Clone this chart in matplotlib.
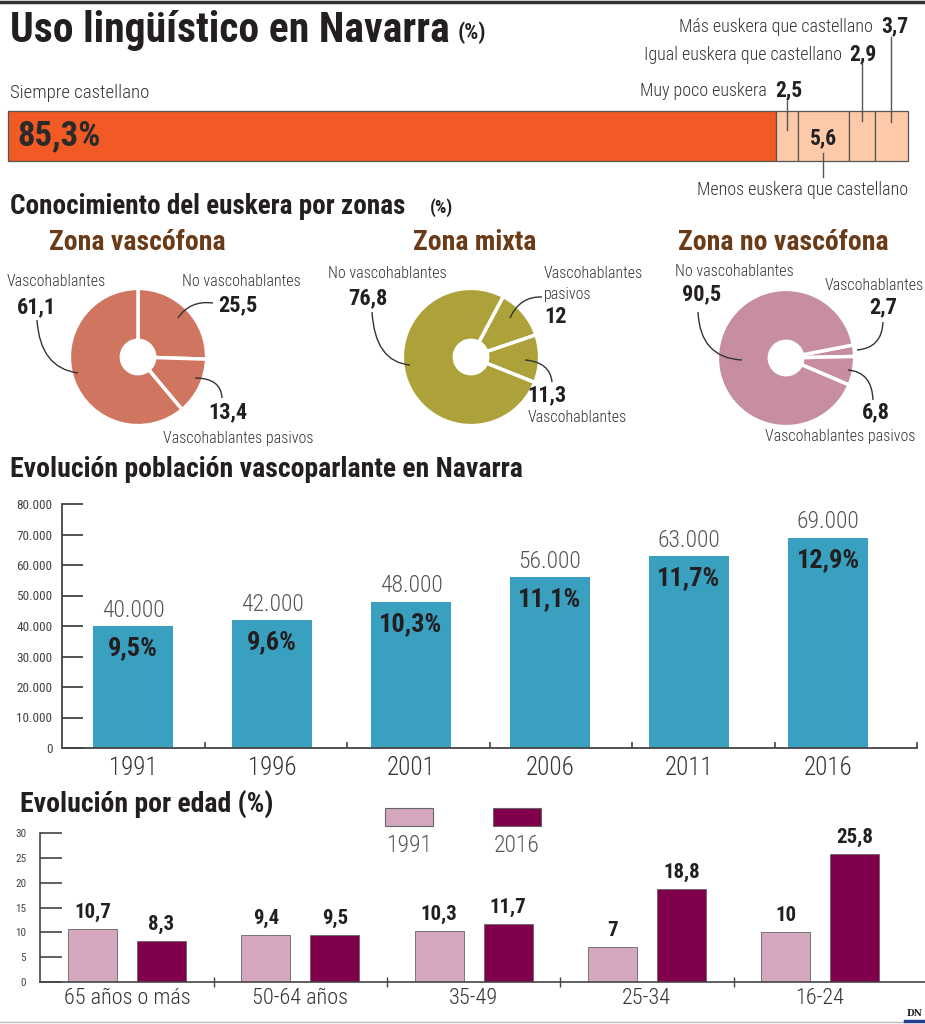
import numpy as np
import matplotlib

matplotlib.use("Agg")
import matplotlib.pyplot as plt
from matplotlib import font_manager
from matplotlib.path import Path
from matplotlib.patches import PathPatch, Rectangle
from matplotlib.transforms import blended_transform_factory

W, H = 925, 1024

# --- data -----------------------------------------------------------------
USO_LABELS = ["Siempre castellano", "Muy poco euskera", "Menos euskera que castellano",
              "Igual euskera que castellano", "Más euskera que castellano"]
USO_VALUES = [85.3, 2.5, 5.6, 2.9, 3.7]

ZONES = ["Zona vascófona", "Zona mixta", "Zona no vascófona"]
ZONE_NO = [25.5, 76.8, 90.5]
ZONE_PASIVOS = [13.4, 12, 6.8]
ZONE_VASCO = [61.1, 11.3, 2.7]

YEARS = ["1991", "1996", "2001", "2006", "2011", "2016"]
SPEAKERS = [40000, 42000, 48000, 56000, 63000, 69000]
SPEAKERS_PCT = [9.5, 9.6, 10.3, 11.1, 11.7, 12.9]

AGE_GROUPS = ["65 años o más", "50-64 años", "35-49", "25-34", "16-24"]
AGE_1991 = [10.7, 9.4, 10.3, 7, 10]
AGE_2016 = [8.3, 9.5, 11.7, 18.8, 25.8]

# --- style ----------------------------------------------------------------
DARK = "#231f20"
GREY = "#444444"
ORANGE = "#f15a24"
PEACH = "#fcc9a9"
ZONE_COLORS = ["#d07660", "#ada23a", "#c68ea0"]
ZONE_TITLE = "#6b3a16"
BLUE = "#3aa0c0"
PINK = "#d4a7bf"
PLUM = "#80004b"
LIGHT = "light"


def pick(*names):
    have = {f.name for f in font_manager.fontManager.ttflist}
    for n in names:
        if n in have:
            return n
    return "DejaVu Sans"


NARROW = pick("Roboto Condensed", "Liberation Sans Narrow", "DejaVu Sans Condensed",
              "Open Sans Condensed", "Liberation Sans")
plt.rcParams["font.family"] = [NARROW, "DejaVu Sans"]


def fmt(v):
    return f"{v:g}".replace(".", ",")


def thousands(v):
    return f"{int(v):,}".replace(",", ".")


fig = plt.figure(figsize=(W / 100, H / 100), dpi=100)
ov = fig.add_axes([0, 0, 1, 1], zorder=10)
ov.set_xlim(0, W)
ov.set_ylim(H, 0)
ov.axis("off")


def txt(x, y, s, pt, bold=False, color=DARK, ha="left", va="baseline", weight=None, **kw):
    w = weight if weight else ("bold" if bold else "normal")
    ov.text(x, y, s, fontsize=pt, fontweight=w, color=color, ha=ha, va=va, **kw)


def leader(p0, ctrl, p1):
    path = Path([p0, ctrl, p1], [Path.MOVETO, Path.CURVE3, Path.CURVE3])
    ov.add_patch(PathPatch(path, fill=False, lw=1, edgecolor="#333333"))


def px_axes(x0, y0, x1, y1, **kw):
    return fig.add_axes([x0 / W, 1 - y1 / H, (x1 - x0) / W, (y1 - y0) / H], **kw)


# frame lines
ov.plot([0, W], [1.5, 1.5], color="#333333", lw=2.5)
ov.plot([0, 903], [1022, 1022], color="#bbbbbb", lw=1)
ov.plot([905, 925], [1021, 1021], color="#1f3e8c", lw=2.5)
ov.text(915, 1016, "DN", fontsize=6.5, fontweight="bold", family="DejaVu Serif",
        color=DARK, ha="center", va="baseline")

# --- 1. Uso lingüístico ---------------------------------------------------
txt(10, 42, "Uso lingüístico en Navarra", 30, bold=True)
txt(458, 39, "(%)", 16, bold=True)
txt(10, 98, USO_LABELS[0], 13.5, color="#333333", weight=LIGHT)

ax_uso = px_axes(8, 111, 908, 161)
lefts = np.concatenate([[0], np.cumsum(USO_VALUES)[:-1]])
bars = ax_uso.barh(0.5, USO_VALUES, left=lefts, height=1,
                   color=[ORANGE] + [PEACH] * 4, edgecolor="#555555", linewidth=0.9)
for b in bars:
    b.set_clip_on(False)
ax_uso.set_xlim(0, 100)
ax_uso.set_ylim(0, 1)
ax_uso.axis("off")
ax_uso.text(1, 0.5, fmt(USO_VALUES[0]) + "%", transform=ax_uso.transData,
            fontsize=25, fontweight="bold", color="#2a2a2a", va="center")

centers = lefts + np.array(USO_VALUES) / 2
bt = blended_transform_factory(ax_uso.transData, ov.transData)
# (line from, line to) in px, label baseline, label right edge
uso_notes = {
    1: (101, 130, 96, 802),
    3: (63, 121, 60, 877),
    4: (37, 122, 32, 908),
}
for i, (l0, l1, yb, xr) in uso_notes.items():
    ov.plot([centers[i], centers[i]], [l0, l1], transform=bt, color="#555555",
            lw=1, zorder=11)
    ov.text(xr, yb, fmt(USO_VALUES[i]), fontsize=15.5, fontweight="bold",
            color=DARK, ha="right", va="baseline")
    ov.text(xr - 35, yb, USO_LABELS[i], fontsize=13, color="#333333",
            ha="right", va="baseline", fontweight=LIGHT)
ov.text(centers[2], 138, fmt(USO_VALUES[2]), transform=bt, fontsize=15.5,
        fontweight="bold", color=DARK, ha="center", va="center")
ov.plot([centers[2], centers[2]], [153, 177], transform=bt, color="#555555", lw=1)
txt(908, 195, USO_LABELS[2], 13, color="#333333", ha="right", weight=LIGHT)

# --- 2. Conocimiento por zonas -------------------------------------------
txt(10, 214, "Conocimiento del euskera por zonas", 19.5, bold=True)
txt(430, 213, "(%)", 13, bold=True)

pie_centers = [(138, 357), (471, 357), (786, 358)]
pie_start = [90, 62, 11]
# wedge order clockwise from start angle
pie_order = [["no", "pas", "vas"], ["pas", "vas", "no"], ["vas", "pas", "no"]]
zone_vals = {"no": ZONE_NO, "pas": ZONE_PASIVOS, "vas": ZONE_VASCO}
zone_names = {"no": "No vascohablantes", "pas": "Vascohablantes pasivos",
              "vas": "Vascohablantes"}
title_x = [137, 475, 783]

# label layout: key -> (name xy, num xy, num ha, leader pts)
pie_labels = [
    {"vas": ((7, 282), (17, 307), "left", [(37, 320), (40, 368), (78, 373)]),
     "no": ((182, 282), (218, 305), "left", [(213, 303), (190, 300), (178, 318)]),
     "pas": ((163, 438), (208, 412), "left", [(222, 398), (221, 378), (195, 378)])},
    {"no": ((328, 273), (348, 298), "left", [(372, 312), (375, 362), (410, 365)]),
     "pas": ((544, 273), (544, 317), "left", [(542, 297), (520, 296), (510, 318)]),
     "vas": ((528, 418), (527, 395), "left", [(552, 382), (550, 362), (525, 360)])},
    {"no": ((675, 272), (682, 294), "left", [(698, 312), (700, 358), (742, 360)]),
     "vas": ((825, 285), (897, 307), "right", [(883, 322), (882, 348), (857, 350)]),
     "pas": ((765, 437), (862, 412), "left", [(873, 400), (872, 372), (848, 370)])},
]

for z in range(3):
    cx, cy = pie_centers[z]
    ax_p = px_axes(cx - 70, cy - 70, cx + 70, cy + 70)
    vals = [zone_vals[k][z] for k in pie_order[z]]
    ax_p.pie(vals, startangle=pie_start[z], counterclock=False, radius=1,
             colors=[ZONE_COLORS[z]] * 3,
             wedgeprops=dict(width=1 - 17 / 70, edgecolor="white", linewidth=2.5))
    ax_p.set_xlim(-1.02, 1.02)
    ax_p.set_ylim(-1.02, 1.02)
    ax_p.set_aspect("equal")
    ax_p.axis("off")
    txt(title_x[z], 243, ZONES[z], 20, bold=True, color=ZONE_TITLE, ha="center",
        va="center")
    for key, (nxy, uxy, uha, pts) in pie_labels[z].items():
        name = zone_names[key]
        if z == 1 and key == "pas":
            name = "Vascohablantes\npasivos"
        for j, line in enumerate(name.split("\n")):
            txt(nxy[0], nxy[1] + 22 * j, line, 11.5, color="#333333", va="center",
                weight=LIGHT)
        txt(uxy[0], uxy[1], fmt(zone_vals[key][z]), 16, bold=True, ha=uha, va="center")
        leader(*pts)

# --- 3. Evolución población ----------------------------------------------
txt(10, 477, "Evolución población vascoparlante en Navarra", 20, bold=True)

ax_b = px_axes(62, 504, 917, 748)
x = np.arange(len(YEARS))
ax_b.bar(x, SPEAKERS, width=0.576, color=BLUE)
ax_b.set_xlim(-0.511, 5.64)
ax_b.set_ylim(0, 80000)
for s in ["top", "right"]:
    ax_b.spines[s].set_visible(False)
for s in ["left", "bottom"]:
    ax_b.spines[s].set_color(GREY)
    ax_b.spines[s].set_linewidth(1.3)
ax_b.set_yticks(np.arange(0, 80001, 10000))
ax_b.set_yticklabels([thousands(v) for v in np.arange(0, 80001, 10000)])
ax_b.tick_params(axis="y", direction="in", length=15, width=1.3, color=GREY,
                 labelsize=9.5, labelcolor=GREY, pad=7)
ax_b.set_xticks(x)
ax_b.set_xticklabels(YEARS, fontweight=LIGHT)
ax_b.tick_params(axis="x", length=0, labelsize=18, labelcolor="#333333", pad=6)
ax_b.set_xticks(np.linspace(-0.511, 5.64, 7)[1:], minor=True)
ax_b.tick_params(axis="x", which="minor", direction="in", length=4, width=1.2,
                 color=GREY)
for xi, v, p in zip(x, SPEAKERS, SPEAKERS_PCT):
    ax_b.annotate(thousands(v), (xi, v), xytext=(0, 3), textcoords="offset points",
                  ha="center", va="bottom", fontsize=17, color="#555555",
                  fontweight=LIGHT)
    ax_b.annotate(fmt(p) + "%", (xi, v), xytext=(0, -16), textcoords="offset points",
                  ha="center", va="center", fontsize=19, fontweight="bold",
                  color=DARK)

# --- 4. Evolución por edad -----------------------------------------------
txt(20, 812, "Evolución por edad (%)", 20, bold=True)

ax_e = px_axes(40, 833, 925, 982)
g = np.arange(len(AGE_GROUPS))
off = 0.199
bw = 0.283
b91 = ax_e.bar(g - off, AGE_1991, width=bw, color=PINK, edgecolor="#666666",
               linewidth=0.6)
b16 = ax_e.bar(g + off, AGE_2016, width=bw, color=PLUM, edgecolor="#666666",
               linewidth=0.6)
ax_e.set_xlim(-0.502, 4.605)
ax_e.set_ylim(0, 30)
for s in ["top", "right"]:
    ax_e.spines[s].set_visible(False)
for s in ["left", "bottom"]:
    ax_e.spines[s].set_color(GREY)
    ax_e.spines[s].set_linewidth(1.2)
ax_e.set_yticks(np.arange(0, 31, 5))
ax_e.tick_params(axis="y", direction="in", length=16, width=1.2, color=GREY,
                 labelsize=8, labelcolor=GREY, pad=10)
ax_e.set_xticks(g)
ax_e.set_xticklabels(AGE_GROUPS, fontweight=LIGHT)
ax_e.tick_params(axis="x", length=0, labelsize=16, labelcolor="#333333", pad=4)
ax_e.set_xticks(g[:-1] + 0.5, minor=True)
ax_e.tick_params(axis="x", which="minor", direction="inout", length=7, width=1,
                 color=GREY)
for bars_, vals in [(b91, AGE_1991), (b16, AGE_2016)]:
    for b, v in zip(bars_, vals):
        ax_e.annotate(fmt(v), (b.get_x() + b.get_width() / 2, v), xytext=(0, 5),
                      textcoords="offset points", ha="center", va="bottom",
                      fontsize=15, fontweight="bold", color=DARK)

# legend
for lx, col, lab in [(385, PINK, "1991"), (493, PLUM, "2016")]:
    ov.add_patch(Rectangle((lx, 808), 48, 18, facecolor=col, edgecolor="#666666",
                           lw=0.8))
    txt(lx + 24, 845, lab, 17, color="#555555", ha="center", va="center",
        weight=LIGHT)

fig.savefig("out.png", dpi=100)
